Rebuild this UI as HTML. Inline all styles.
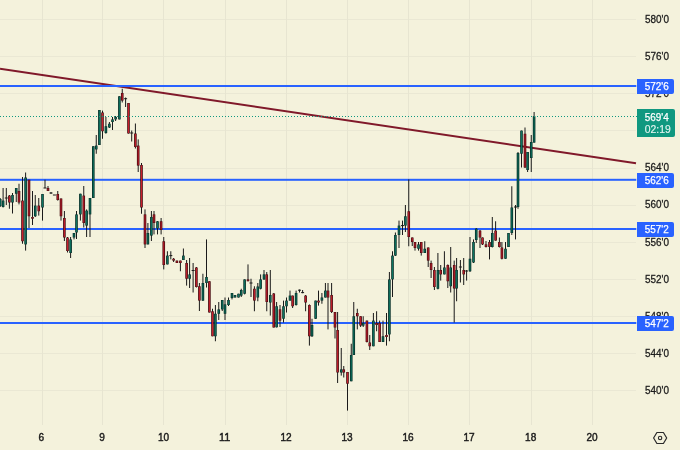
<!DOCTYPE html>
<html lang="en"><head><meta charset="utf-8"><title>Chart</title>
<style>html,body{margin:0;padding:0;background:#f4f2dc;overflow:hidden}svg{display:block}text{font-family:"Liberation Sans",sans-serif;}</style>
</head><body>
<svg width="680" height="450" viewBox="0 0 680 450">
<rect x="0" y="0" width="680" height="450" fill="#f4f2dc"/>
<g stroke="#e7e5d1" stroke-width="1" shape-rendering="crispEdges">
<line x1="0" y1="19.5" x2="636" y2="19.5" stroke="#eae8d4"/>
<line x1="0" y1="56.5" x2="636" y2="56.5" stroke="#eae8d4"/>
<line x1="0" y1="93.5" x2="636" y2="93.5" stroke="#eae8d4"/>
<line x1="0" y1="130.5" x2="636" y2="130.5" stroke="#eae8d4"/>
<line x1="0" y1="168.5" x2="636" y2="168.5" stroke="#eae8d4"/>
<line x1="0" y1="205.5" x2="636" y2="205.5" stroke="#eae8d4"/>
<line x1="0" y1="242.5" x2="636" y2="242.5" stroke="#eae8d4"/>
<line x1="0" y1="279.5" x2="636" y2="279.5" stroke="#eae8d4"/>
<line x1="0" y1="316.5" x2="636" y2="316.5" stroke="#eae8d4"/>
<line x1="0" y1="353.5" x2="636" y2="353.5" stroke="#eae8d4"/>
<line x1="0" y1="390.5" x2="636" y2="390.5" stroke="#eae8d4"/>
<line x1="42.5" y1="0" x2="42.5" y2="425"/>
<line x1="102.5" y1="0" x2="102.5" y2="425"/>
<line x1="163.5" y1="0" x2="163.5" y2="425"/>
<line x1="225.5" y1="0" x2="225.5" y2="425"/>
<line x1="286.5" y1="0" x2="286.5" y2="425"/>
<line x1="347.5" y1="0" x2="347.5" y2="425"/>
<line x1="408.5" y1="0" x2="408.5" y2="425"/>
<line x1="469.5" y1="0" x2="469.5" y2="425"/>
<line x1="531.5" y1="0" x2="531.5" y2="425"/>
<line x1="592.5" y1="0" x2="592.5" y2="425"/>
</g>
<line x1="0" y1="68.8" x2="636" y2="163.2" stroke="#80192a" stroke-width="2"/>
<rect x="0" y="85" width="636.3" height="2" fill="#2962ff"/>
<rect x="0" y="178.8" width="636.3" height="2" fill="#2962ff"/>
<rect x="0" y="228" width="636.3" height="2" fill="#2962ff"/>
<rect x="0" y="322" width="636.3" height="2" fill="#2962ff"/>
<g>
<rect x="-0.3" y="198" width="1" height="9" fill="#1a1a1a"/>
<rect x="-1.1" y="199" width="2.6" height="7" fill="#062f28"/>
<rect x="-0.3" y="199.5" width="1.0" height="6" fill="#0c7460"/>
<rect x="2.6" y="188" width="1" height="19.5" fill="#1a1a1a"/>
<rect x="1.8" y="200.6" width="2.6" height="6.4" fill="#062f28"/>
<rect x="2.6" y="201.1" width="1.0" height="5.4" fill="#0c7460"/>
<rect x="5.8" y="188" width="1" height="17" fill="#1a1a1a"/>
<rect x="4.8" y="197.5" width="3" height="1" fill="#1a1a1a"/>
<rect x="8.9" y="195" width="1" height="13.75" fill="#1a1a1a"/>
<rect x="8.1" y="195.6" width="2.6" height="6.9" fill="#480a10"/>
<rect x="8.9" y="196.1" width="1.0" height="5.9" fill="#c81e2c"/>
<rect x="12" y="193" width="1" height="20.5" fill="#1a1a1a"/>
<rect x="11.2" y="195" width="2.6" height="7.5" fill="#062f28"/>
<rect x="12" y="195.5" width="1.0" height="6.5" fill="#0c7460"/>
<rect x="15.75" y="188" width="1" height="14" fill="#1a1a1a"/>
<rect x="14.95" y="188" width="2.6" height="5.75" fill="#062f28"/>
<rect x="15.75" y="188.5" width="1.0" height="4.75" fill="#0c7460"/>
<rect x="18.5" y="183.75" width="1" height="20.65" fill="#1a1a1a"/>
<rect x="17.7" y="191" width="2.6" height="11.5" fill="#480a10"/>
<rect x="18.5" y="191.5" width="1.0" height="10.5" fill="#c81e2c"/>
<rect x="22" y="177" width="1" height="66.75" fill="#1a1a1a"/>
<rect x="21.2" y="200.6" width="2.6" height="40.65" fill="#480a10"/>
<rect x="22" y="201.1" width="1.0" height="39.65" fill="#c81e2c"/>
<rect x="25.1" y="172.5" width="1" height="78.1" fill="#1a1a1a"/>
<rect x="24.3" y="177.5" width="2.6" height="66.9" fill="#062f28"/>
<rect x="25.1" y="178" width="1.0" height="65.9" fill="#0c7460"/>
<rect x="28.5" y="179.75" width="1" height="48.25" fill="#1a1a1a"/>
<rect x="27.7" y="179.75" width="2.6" height="36.5" fill="#480a10"/>
<rect x="28.5" y="180.25" width="1.0" height="35.5" fill="#c81e2c"/>
<rect x="32" y="191" width="1" height="34" fill="#1a1a1a"/>
<rect x="31.2" y="217" width="2.6" height="1.75" fill="#480a10"/>
<rect x="32" y="217.5" width="1.0" height="0.75" fill="#c81e2c"/>
<rect x="34.75" y="195" width="1" height="22" fill="#1a1a1a"/>
<rect x="33.95" y="205.6" width="2.6" height="10.65" fill="#062f28"/>
<rect x="34.75" y="206.1" width="1.0" height="9.65" fill="#0c7460"/>
<rect x="38.25" y="198" width="1" height="17.6" fill="#1a1a1a"/>
<rect x="37.45" y="205.6" width="2.6" height="5.65" fill="#480a10"/>
<rect x="38.25" y="206.1" width="1.0" height="4.65" fill="#c81e2c"/>
<rect x="42" y="194" width="1" height="26.6" fill="#1a1a1a"/>
<rect x="41.2" y="194" width="2.6" height="13.5" fill="#062f28"/>
<rect x="42" y="194.5" width="1.0" height="12.5" fill="#0c7460"/>
<rect x="44.5" y="179.75" width="1" height="8.25" fill="#1a1a1a"/>
<rect x="43.5" y="187.5" width="3" height="1" fill="#1a1a1a"/>
<rect x="47.5" y="186" width="1" height="5" fill="#1a1a1a"/>
<rect x="46.7" y="188" width="2.6" height="3" fill="#480a10"/>
<rect x="47.5" y="188.5" width="1.0" height="2" fill="#c81e2c"/>
<rect x="50.5" y="192" width="1" height="2" fill="#1a1a1a"/>
<rect x="49.5" y="192.5" width="3" height="1" fill="#1a1a1a"/>
<rect x="52.9" y="194.5" width="3" height="1" fill="#1a1a1a"/>
<rect x="57.25" y="191" width="1" height="9.6" fill="#1a1a1a"/>
<rect x="56.45" y="194" width="2.6" height="6" fill="#480a10"/>
<rect x="57.25" y="194.5" width="1.0" height="5" fill="#c81e2c"/>
<rect x="60.5" y="198.5" width="1" height="22.1" fill="#1a1a1a"/>
<rect x="59.7" y="198.5" width="2.6" height="17.75" fill="#480a10"/>
<rect x="60.5" y="199" width="1.0" height="16.75" fill="#c81e2c"/>
<rect x="63.9" y="211" width="1" height="30" fill="#1a1a1a"/>
<rect x="63.1" y="218" width="2.6" height="19.5" fill="#480a10"/>
<rect x="63.9" y="218.5" width="1.0" height="18.5" fill="#c81e2c"/>
<rect x="67" y="237" width="1" height="15.5" fill="#1a1a1a"/>
<rect x="66.2" y="237.5" width="2.6" height="13.5" fill="#480a10"/>
<rect x="67" y="238" width="1.0" height="12.5" fill="#c81e2c"/>
<rect x="70.1" y="237" width="1" height="21" fill="#1a1a1a"/>
<rect x="69.3" y="239.4" width="2.6" height="13.6" fill="#062f28"/>
<rect x="70.1" y="239.9" width="1.0" height="12.6" fill="#0c7460"/>
<rect x="73.5" y="233" width="1" height="6.4" fill="#1a1a1a"/>
<rect x="72.7" y="233" width="2.6" height="4.5" fill="#062f28"/>
<rect x="73.5" y="233.5" width="1.0" height="3.5" fill="#0c7460"/>
<rect x="76" y="211" width="1" height="28" fill="#1a1a1a"/>
<rect x="75.2" y="214.4" width="2.6" height="18.1" fill="#062f28"/>
<rect x="76" y="214.9" width="1.0" height="17.1" fill="#0c7460"/>
<rect x="79.9" y="193.75" width="1" height="26.85" fill="#1a1a1a"/>
<rect x="79.1" y="193.75" width="2.6" height="20.65" fill="#062f28"/>
<rect x="79.9" y="194.25" width="1.0" height="19.65" fill="#0c7460"/>
<rect x="83.25" y="186" width="1" height="41.5" fill="#1a1a1a"/>
<rect x="82.45" y="195.6" width="2.6" height="27.4" fill="#480a10"/>
<rect x="83.25" y="196.1" width="1.0" height="26.4" fill="#c81e2c"/>
<rect x="86.1" y="209.4" width="1" height="27.6" fill="#1a1a1a"/>
<rect x="85.3" y="210.6" width="2.6" height="15" fill="#062f28"/>
<rect x="86.1" y="211.1" width="1.0" height="14" fill="#0c7460"/>
<rect x="89.5" y="198" width="1" height="39" fill="#1a1a1a"/>
<rect x="88.7" y="198" width="2.6" height="16.4" fill="#062f28"/>
<rect x="89.5" y="198.5" width="1.0" height="15.4" fill="#0c7460"/>
<rect x="92.8" y="146.25" width="1" height="51.75" fill="#1a1a1a"/>
<rect x="92" y="146.25" width="2.6" height="51.75" fill="#062f28"/>
<rect x="92.8" y="146.75" width="1.0" height="50.75" fill="#0c7460"/>
<rect x="95.75" y="135" width="1" height="18.75" fill="#1a1a1a"/>
<rect x="94.95" y="145.6" width="2.6" height="3.8" fill="#062f28"/>
<rect x="95.75" y="146.1" width="1.0" height="2.8" fill="#0c7460"/>
<rect x="98.9" y="110" width="1" height="35" fill="#1a1a1a"/>
<rect x="98.1" y="110" width="2.6" height="35" fill="#062f28"/>
<rect x="98.9" y="110.5" width="1.0" height="34" fill="#0c7460"/>
<rect x="102" y="110.6" width="1" height="28.15" fill="#1a1a1a"/>
<rect x="101.2" y="112.5" width="2.6" height="18.75" fill="#480a10"/>
<rect x="102" y="113" width="1.0" height="17.75" fill="#c81e2c"/>
<rect x="105.4" y="117" width="1" height="16.75" fill="#1a1a1a"/>
<rect x="104.6" y="126.25" width="2.6" height="6.75" fill="#062f28"/>
<rect x="105.4" y="126.75" width="1.0" height="5.75" fill="#0c7460"/>
<rect x="108.9" y="122" width="1" height="6" fill="#1a1a1a"/>
<rect x="108.1" y="123.75" width="2.6" height="3.75" fill="#062f28"/>
<rect x="108.9" y="124.25" width="1.0" height="2.75" fill="#0c7460"/>
<rect x="112" y="117" width="1" height="13" fill="#1a1a1a"/>
<rect x="111.2" y="119.4" width="2.6" height="2.6" fill="#062f28"/>
<rect x="112" y="119.9" width="1.0" height="1.6" fill="#0c7460"/>
<rect x="115.1" y="116" width="1" height="5" fill="#1a1a1a"/>
<rect x="114.3" y="117" width="2.6" height="2.4" fill="#062f28"/>
<rect x="115.1" y="117.5" width="1.0" height="1.4" fill="#0c7460"/>
<rect x="118.9" y="96.25" width="1" height="23.15" fill="#1a1a1a"/>
<rect x="118.1" y="96.25" width="2.6" height="23.15" fill="#062f28"/>
<rect x="118.9" y="96.75" width="1.0" height="22.15" fill="#0c7460"/>
<rect x="121.75" y="88.75" width="1" height="13.75" fill="#1a1a1a"/>
<rect x="120.95" y="93" width="2.6" height="7.6" fill="#480a10"/>
<rect x="121.75" y="93.5" width="1.0" height="6.6" fill="#c81e2c"/>
<rect x="125.1" y="97.5" width="1" height="9.5" fill="#1a1a1a"/>
<rect x="124.1" y="98.2" width="3" height="1" fill="#1a1a1a"/>
<rect x="128" y="103" width="1" height="30.5" fill="#1a1a1a"/>
<rect x="127.2" y="103" width="2.6" height="30.5" fill="#480a10"/>
<rect x="128" y="103.5" width="1.0" height="29.5" fill="#c81e2c"/>
<rect x="131.2" y="130.5" width="1" height="11" fill="#1a1a1a"/>
<rect x="130.2" y="132.5" width="3" height="1" fill="#1a1a1a"/>
<rect x="134.9" y="123.5" width="1" height="25" fill="#1a1a1a"/>
<rect x="134.1" y="133.5" width="2.6" height="13.5" fill="#480a10"/>
<rect x="134.9" y="134" width="1.0" height="12.5" fill="#c81e2c"/>
<rect x="137.7" y="139.4" width="1" height="32.6" fill="#1a1a1a"/>
<rect x="136.9" y="145.6" width="2.6" height="20" fill="#480a10"/>
<rect x="137.7" y="146.1" width="1.0" height="19" fill="#c81e2c"/>
<rect x="141" y="163" width="1" height="50.75" fill="#1a1a1a"/>
<rect x="140.2" y="165" width="2.6" height="42.5" fill="#480a10"/>
<rect x="141" y="165.5" width="1.0" height="41.5" fill="#c81e2c"/>
<rect x="144.5" y="209.4" width="1" height="38.6" fill="#1a1a1a"/>
<rect x="143.7" y="214.4" width="2.6" height="30" fill="#480a10"/>
<rect x="144.5" y="214.9" width="1.0" height="29" fill="#c81e2c"/>
<rect x="147.4" y="223" width="1" height="21.4" fill="#1a1a1a"/>
<rect x="146.6" y="233" width="2.6" height="11.4" fill="#062f28"/>
<rect x="147.4" y="233.5" width="1.0" height="10.4" fill="#0c7460"/>
<rect x="150.9" y="211" width="1" height="30" fill="#1a1a1a"/>
<rect x="150.1" y="217" width="2.6" height="18.6" fill="#062f28"/>
<rect x="150.9" y="217.5" width="1.0" height="17.6" fill="#0c7460"/>
<rect x="153.5" y="211" width="1" height="23.4" fill="#1a1a1a"/>
<rect x="152.7" y="214.4" width="2.6" height="8.6" fill="#480a10"/>
<rect x="153.5" y="214.9" width="1.0" height="7.6" fill="#c81e2c"/>
<rect x="157" y="221" width="1" height="13.4" fill="#1a1a1a"/>
<rect x="156.2" y="221.25" width="2.6" height="7.25" fill="#062f28"/>
<rect x="157" y="221.75" width="1.0" height="6.25" fill="#0c7460"/>
<rect x="160.6" y="218" width="1" height="16.4" fill="#1a1a1a"/>
<rect x="159.8" y="221.25" width="2.6" height="8.75" fill="#480a10"/>
<rect x="160.6" y="221.75" width="1.0" height="7.75" fill="#c81e2c"/>
<rect x="163.25" y="237" width="1" height="32.4" fill="#1a1a1a"/>
<rect x="162.45" y="241.25" width="2.6" height="23.75" fill="#480a10"/>
<rect x="163.25" y="241.75" width="1.0" height="22.75" fill="#c81e2c"/>
<rect x="166.9" y="251.25" width="1" height="13.15" fill="#1a1a1a"/>
<rect x="166.1" y="255.6" width="2.6" height="8.8" fill="#062f28"/>
<rect x="166.9" y="256.1" width="1.0" height="7.8" fill="#0c7460"/>
<rect x="170.3" y="251.25" width="1" height="8.15" fill="#1a1a1a"/>
<rect x="169.3" y="255.1" width="3" height="1" fill="#1a1a1a"/>
<rect x="173.1" y="258" width="1" height="4" fill="#1a1a1a"/>
<rect x="172.3" y="258.75" width="2.6" height="1.85" fill="#480a10"/>
<rect x="173.1" y="259.25" width="1.0" height="0.85" fill="#c81e2c"/>
<rect x="176.4" y="260.6" width="1" height="2.4" fill="#1a1a1a"/>
<rect x="175.6" y="260.6" width="2.6" height="2.4" fill="#480a10"/>
<rect x="176.4" y="261.1" width="1.0" height="1.4" fill="#c81e2c"/>
<rect x="179.9" y="260.6" width="1" height="10.65" fill="#1a1a1a"/>
<rect x="179.1" y="260.6" width="2.6" height="2.4" fill="#480a10"/>
<rect x="179.9" y="261.1" width="1.0" height="1.4" fill="#c81e2c"/>
<rect x="182.9" y="248.5" width="1" height="11.5" fill="#1a1a1a"/>
<rect x="182.1" y="255.6" width="2.6" height="4.4" fill="#062f28"/>
<rect x="182.9" y="256.1" width="1.0" height="3.4" fill="#0c7460"/>
<rect x="186.1" y="260" width="1" height="25.6" fill="#1a1a1a"/>
<rect x="185.3" y="263" width="2.6" height="15.75" fill="#480a10"/>
<rect x="186.1" y="263.5" width="1.0" height="14.75" fill="#c81e2c"/>
<rect x="189.1" y="258" width="1" height="30" fill="#1a1a1a"/>
<rect x="188.3" y="274.4" width="2.6" height="4.35" fill="#062f28"/>
<rect x="189.1" y="274.9" width="1.0" height="3.35" fill="#0c7460"/>
<rect x="192.6" y="263" width="1" height="29.5" fill="#1a1a1a"/>
<rect x="191.6" y="270" width="3" height="1" fill="#1a1a1a"/>
<rect x="195.9" y="267" width="1" height="20.5" fill="#1a1a1a"/>
<rect x="195.1" y="267.5" width="2.6" height="19.5" fill="#480a10"/>
<rect x="195.9" y="268" width="1.0" height="18.5" fill="#c81e2c"/>
<rect x="198.9" y="283" width="1" height="28" fill="#1a1a1a"/>
<rect x="198.1" y="286.25" width="2.6" height="14.35" fill="#480a10"/>
<rect x="198.9" y="286.75" width="1.0" height="13.35" fill="#c81e2c"/>
<rect x="202.4" y="273.75" width="1" height="27.25" fill="#1a1a1a"/>
<rect x="201.6" y="283" width="2.6" height="17.6" fill="#062f28"/>
<rect x="202.4" y="283.5" width="1.0" height="16.6" fill="#0c7460"/>
<rect x="206" y="239.4" width="1" height="48.1" fill="#1a1a1a"/>
<rect x="205.2" y="277" width="2.6" height="6" fill="#062f28"/>
<rect x="206" y="277.5" width="1.0" height="5" fill="#0c7460"/>
<rect x="208.9" y="281.25" width="1" height="31.25" fill="#1a1a1a"/>
<rect x="208.1" y="281.25" width="2.6" height="31.25" fill="#480a10"/>
<rect x="208.9" y="281.75" width="1.0" height="30.25" fill="#c81e2c"/>
<rect x="212" y="308.75" width="1" height="27.5" fill="#1a1a1a"/>
<rect x="211.2" y="311.25" width="2.6" height="25" fill="#480a10"/>
<rect x="212" y="311.75" width="1.0" height="24" fill="#c81e2c"/>
<rect x="214.9" y="305" width="1" height="36.25" fill="#1a1a1a"/>
<rect x="214.1" y="313.75" width="2.6" height="22.5" fill="#062f28"/>
<rect x="214.9" y="314.25" width="1.0" height="21.5" fill="#0c7460"/>
<rect x="218.25" y="302" width="1" height="18" fill="#1a1a1a"/>
<rect x="217.45" y="309.4" width="2.6" height="4.35" fill="#062f28"/>
<rect x="218.25" y="309.9" width="1.0" height="3.35" fill="#0c7460"/>
<rect x="221.75" y="300" width="1" height="11" fill="#1a1a1a"/>
<rect x="220.95" y="300" width="2.6" height="9.4" fill="#062f28"/>
<rect x="221.75" y="300.5" width="1.0" height="8.4" fill="#0c7460"/>
<rect x="224.5" y="297.5" width="1" height="22.5" fill="#1a1a1a"/>
<rect x="223.7" y="304.4" width="2.6" height="9.35" fill="#062f28"/>
<rect x="224.5" y="304.9" width="1.0" height="8.35" fill="#0c7460"/>
<rect x="228" y="297.5" width="1" height="8.5" fill="#1a1a1a"/>
<rect x="227.2" y="300" width="2.6" height="5" fill="#062f28"/>
<rect x="228" y="300.5" width="1.0" height="4" fill="#0c7460"/>
<rect x="231.5" y="293" width="1" height="6.4" fill="#1a1a1a"/>
<rect x="230.7" y="293" width="2.6" height="5" fill="#062f28"/>
<rect x="231.5" y="293.5" width="1.0" height="4" fill="#0c7460"/>
<rect x="234.5" y="295" width="1" height="2.5" fill="#1a1a1a"/>
<rect x="233.7" y="295" width="2.6" height="2.5" fill="#062f28"/>
<rect x="234.5" y="295.5" width="1.0" height="1.5" fill="#0c7460"/>
<rect x="238" y="293.75" width="1" height="3.75" fill="#1a1a1a"/>
<rect x="237.2" y="293.75" width="2.6" height="3.75" fill="#062f28"/>
<rect x="238" y="294.25" width="1.0" height="2.75" fill="#0c7460"/>
<rect x="240.75" y="288.75" width="1" height="8.25" fill="#1a1a1a"/>
<rect x="239.95" y="290" width="2.6" height="5.6" fill="#062f28"/>
<rect x="240.75" y="290.5" width="1.0" height="4.6" fill="#0c7460"/>
<rect x="244.1" y="279.4" width="1" height="15" fill="#1a1a1a"/>
<rect x="243.3" y="279.4" width="2.6" height="14.35" fill="#062f28"/>
<rect x="244.1" y="279.9" width="1.0" height="13.35" fill="#0c7460"/>
<rect x="247.5" y="264.4" width="1" height="16.85" fill="#1a1a1a"/>
<rect x="246.7" y="279.4" width="2.6" height="1.85" fill="#480a10"/>
<rect x="247.5" y="279.9" width="1.0" height="0.85" fill="#c81e2c"/>
<rect x="250.5" y="278.75" width="1" height="18.25" fill="#1a1a1a"/>
<rect x="249.5" y="282.5" width="3" height="1" fill="#1a1a1a"/>
<rect x="253.9" y="286.25" width="1" height="25" fill="#1a1a1a"/>
<rect x="253.1" y="288.75" width="2.6" height="11.85" fill="#480a10"/>
<rect x="253.9" y="289.25" width="1.0" height="10.85" fill="#c81e2c"/>
<rect x="257.3" y="283" width="1" height="18.25" fill="#1a1a1a"/>
<rect x="256.5" y="286.5" width="2.6" height="11" fill="#062f28"/>
<rect x="257.3" y="287" width="1.0" height="10" fill="#0c7460"/>
<rect x="260.1" y="274.4" width="1" height="15" fill="#1a1a1a"/>
<rect x="259.3" y="279.4" width="2.6" height="9.35" fill="#062f28"/>
<rect x="260.1" y="279.9" width="1.0" height="8.35" fill="#0c7460"/>
<rect x="263.5" y="270" width="1" height="10" fill="#1a1a1a"/>
<rect x="262.7" y="274.4" width="2.6" height="5" fill="#062f28"/>
<rect x="263.5" y="274.9" width="1.0" height="4" fill="#0c7460"/>
<rect x="266.25" y="272" width="1" height="39.25" fill="#1a1a1a"/>
<rect x="265.45" y="274.4" width="2.6" height="27.6" fill="#480a10"/>
<rect x="266.25" y="274.9" width="1.0" height="26.6" fill="#c81e2c"/>
<rect x="269.8" y="270" width="1" height="45.6" fill="#1a1a1a"/>
<rect x="269" y="295" width="2.6" height="7.5" fill="#062f28"/>
<rect x="269.8" y="295.5" width="1.0" height="6.5" fill="#0c7460"/>
<rect x="273.25" y="293" width="1" height="34.5" fill="#1a1a1a"/>
<rect x="272.45" y="293.5" width="2.6" height="34" fill="#480a10"/>
<rect x="273.25" y="294" width="1.0" height="33" fill="#c81e2c"/>
<rect x="276.1" y="302" width="1" height="25.5" fill="#1a1a1a"/>
<rect x="275.3" y="306.25" width="2.6" height="21" fill="#062f28"/>
<rect x="276.1" y="306.75" width="1.0" height="20" fill="#0c7460"/>
<rect x="279.5" y="305" width="1" height="22" fill="#1a1a1a"/>
<rect x="278.7" y="309.4" width="2.6" height="11.2" fill="#480a10"/>
<rect x="279.5" y="309.9" width="1.0" height="10.2" fill="#c81e2c"/>
<rect x="283" y="300.6" width="1" height="21.9" fill="#1a1a1a"/>
<rect x="282.2" y="306.25" width="2.6" height="12.5" fill="#062f28"/>
<rect x="283" y="306.75" width="1.0" height="11.5" fill="#0c7460"/>
<rect x="286" y="297.5" width="1" height="15" fill="#1a1a1a"/>
<rect x="285.2" y="300.6" width="2.6" height="5.65" fill="#062f28"/>
<rect x="286" y="301.1" width="1.0" height="4.65" fill="#0c7460"/>
<rect x="289.5" y="290.6" width="1" height="10" fill="#1a1a1a"/>
<rect x="288.7" y="295.6" width="2.6" height="5" fill="#062f28"/>
<rect x="289.5" y="296.1" width="1.0" height="4" fill="#0c7460"/>
<rect x="292.1" y="295.6" width="1" height="12.4" fill="#1a1a1a"/>
<rect x="291.3" y="295.6" width="2.6" height="10.65" fill="#480a10"/>
<rect x="292.1" y="296.1" width="1.0" height="9.65" fill="#c81e2c"/>
<rect x="295.6" y="290.6" width="1" height="15" fill="#1a1a1a"/>
<rect x="294.8" y="293" width="2.6" height="12" fill="#062f28"/>
<rect x="295.6" y="293.5" width="1.0" height="11" fill="#0c7460"/>
<rect x="299" y="289.5" width="1" height="3" fill="#1a1a1a"/>
<rect x="298" y="289.7" width="3" height="1" fill="#1a1a1a"/>
<rect x="302.1" y="290" width="1" height="3.2" fill="#1a1a1a"/>
<rect x="301.1" y="292.1" width="3" height="1" fill="#1a1a1a"/>
<rect x="305.1" y="295" width="1" height="16.25" fill="#1a1a1a"/>
<rect x="304.3" y="295.6" width="2.6" height="6.9" fill="#480a10"/>
<rect x="305.1" y="296.1" width="1.0" height="5.9" fill="#c81e2c"/>
<rect x="308.9" y="304.4" width="1" height="41.2" fill="#1a1a1a"/>
<rect x="308.1" y="305" width="2.6" height="31.25" fill="#480a10"/>
<rect x="308.9" y="305.5" width="1.0" height="30.25" fill="#c81e2c"/>
<rect x="311.5" y="318.75" width="1" height="18.25" fill="#1a1a1a"/>
<rect x="310.7" y="325" width="2.6" height="11.25" fill="#062f28"/>
<rect x="311.5" y="325.5" width="1.0" height="10.25" fill="#0c7460"/>
<rect x="315.1" y="300.6" width="1" height="18.4" fill="#1a1a1a"/>
<rect x="314.3" y="300.6" width="2.6" height="18.15" fill="#062f28"/>
<rect x="315.1" y="301.1" width="1.0" height="17.15" fill="#0c7460"/>
<rect x="318" y="290.6" width="1" height="15" fill="#1a1a1a"/>
<rect x="317.2" y="300.6" width="2.6" height="1.9" fill="#480a10"/>
<rect x="318" y="301.1" width="1.0" height="0.9" fill="#c81e2c"/>
<rect x="321.4" y="293" width="1" height="10.75" fill="#1a1a1a"/>
<rect x="320.6" y="297.5" width="2.6" height="3.1" fill="#062f28"/>
<rect x="321.4" y="298" width="1.0" height="2.1" fill="#0c7460"/>
<rect x="324.9" y="283" width="1" height="14.5" fill="#1a1a1a"/>
<rect x="324.1" y="290.6" width="2.6" height="6.9" fill="#062f28"/>
<rect x="324.9" y="291.1" width="1.0" height="5.9" fill="#0c7460"/>
<rect x="327.5" y="283" width="1" height="46.4" fill="#1a1a1a"/>
<rect x="326.7" y="290.6" width="2.6" height="6.9" fill="#480a10"/>
<rect x="327.5" y="291.1" width="1.0" height="5.9" fill="#c81e2c"/>
<rect x="331.1" y="283" width="1" height="30" fill="#1a1a1a"/>
<rect x="330.3" y="295" width="2.6" height="17" fill="#480a10"/>
<rect x="331.1" y="295.5" width="1.0" height="16" fill="#c81e2c"/>
<rect x="334.5" y="312" width="1" height="26.5" fill="#1a1a1a"/>
<rect x="333.7" y="312" width="2.6" height="15.5" fill="#480a10"/>
<rect x="334.5" y="312.5" width="1.0" height="14.5" fill="#c81e2c"/>
<rect x="337.1" y="312" width="1" height="71" fill="#1a1a1a"/>
<rect x="336.3" y="330" width="2.6" height="42.5" fill="#480a10"/>
<rect x="337.1" y="330.5" width="1.0" height="41.5" fill="#c81e2c"/>
<rect x="340.75" y="348" width="1" height="27.6" fill="#1a1a1a"/>
<rect x="339.95" y="369.4" width="2.6" height="3.1" fill="#062f28"/>
<rect x="340.75" y="369.9" width="1.0" height="2.1" fill="#0c7460"/>
<rect x="343.25" y="366" width="1" height="11.5" fill="#1a1a1a"/>
<rect x="342.45" y="369.4" width="2.6" height="3.1" fill="#480a10"/>
<rect x="343.25" y="369.9" width="1.0" height="2.1" fill="#c81e2c"/>
<rect x="347" y="372" width="1" height="38.6" fill="#1a1a1a"/>
<rect x="346.2" y="372" width="2.6" height="11.75" fill="#480a10"/>
<rect x="347" y="372.5" width="1.0" height="10.75" fill="#c81e2c"/>
<rect x="350.75" y="343.75" width="1" height="37.5" fill="#1a1a1a"/>
<rect x="349.95" y="355" width="2.6" height="26.25" fill="#062f28"/>
<rect x="350.75" y="355.5" width="1.0" height="25.25" fill="#0c7460"/>
<rect x="353.25" y="302" width="1" height="53" fill="#1a1a1a"/>
<rect x="352.45" y="316.25" width="2.6" height="38.75" fill="#062f28"/>
<rect x="353.25" y="316.75" width="1.0" height="37.75" fill="#0c7460"/>
<rect x="356.8" y="308.75" width="1" height="20.65" fill="#1a1a1a"/>
<rect x="356" y="313" width="2.6" height="3.25" fill="#480a10"/>
<rect x="356.8" y="313.5" width="1.0" height="2.25" fill="#c81e2c"/>
<rect x="360.1" y="316.25" width="1" height="10.75" fill="#1a1a1a"/>
<rect x="359.3" y="316.25" width="2.6" height="9.35" fill="#480a10"/>
<rect x="360.1" y="316.75" width="1.0" height="8.35" fill="#c81e2c"/>
<rect x="362.7" y="316.25" width="1" height="10.75" fill="#1a1a1a"/>
<rect x="361.9" y="323" width="2.6" height="2.6" fill="#062f28"/>
<rect x="362.7" y="323.5" width="1.0" height="1.6" fill="#0c7460"/>
<rect x="366.4" y="320.6" width="1" height="21.9" fill="#1a1a1a"/>
<rect x="365.6" y="320.6" width="2.6" height="21.4" fill="#480a10"/>
<rect x="366.4" y="321.1" width="1.0" height="20.4" fill="#c81e2c"/>
<rect x="369.25" y="335" width="1" height="15" fill="#1a1a1a"/>
<rect x="368.45" y="342.5" width="2.6" height="3.75" fill="#480a10"/>
<rect x="369.25" y="343" width="1.0" height="2.75" fill="#c81e2c"/>
<rect x="372.9" y="313" width="1" height="33.25" fill="#1a1a1a"/>
<rect x="372.1" y="320.6" width="2.6" height="25.65" fill="#062f28"/>
<rect x="372.9" y="321.1" width="1.0" height="24.65" fill="#0c7460"/>
<rect x="376.1" y="311.25" width="1" height="20" fill="#1a1a1a"/>
<rect x="375.3" y="323" width="2.6" height="2" fill="#480a10"/>
<rect x="376.1" y="323.5" width="1.0" height="1" fill="#c81e2c"/>
<rect x="379.1" y="320.6" width="1" height="21.4" fill="#1a1a1a"/>
<rect x="378.3" y="323" width="2.6" height="19" fill="#480a10"/>
<rect x="379.1" y="323.5" width="1.0" height="18" fill="#c81e2c"/>
<rect x="382.5" y="320.6" width="1" height="21.4" fill="#1a1a1a"/>
<rect x="381.7" y="336.25" width="2.6" height="5.75" fill="#062f28"/>
<rect x="382.5" y="336.75" width="1.0" height="4.75" fill="#0c7460"/>
<rect x="386" y="313" width="1" height="32.6" fill="#1a1a1a"/>
<rect x="385.2" y="335" width="2.6" height="2" fill="#480a10"/>
<rect x="386" y="335.5" width="1.0" height="1" fill="#c81e2c"/>
<rect x="388.9" y="272" width="1" height="69.25" fill="#1a1a1a"/>
<rect x="388.1" y="279.4" width="2.6" height="55" fill="#062f28"/>
<rect x="388.9" y="279.9" width="1.0" height="54" fill="#0c7460"/>
<rect x="392" y="251.25" width="1" height="45.75" fill="#1a1a1a"/>
<rect x="391.2" y="255.6" width="2.6" height="23.8" fill="#062f28"/>
<rect x="392" y="256.1" width="1.0" height="22.8" fill="#0c7460"/>
<rect x="394.9" y="232.5" width="1" height="23.5" fill="#1a1a1a"/>
<rect x="394.1" y="235" width="2.6" height="20.6" fill="#062f28"/>
<rect x="394.9" y="235.5" width="1.0" height="19.6" fill="#0c7460"/>
<rect x="398.5" y="220.6" width="1" height="27.4" fill="#1a1a1a"/>
<rect x="397.7" y="225.6" width="2.6" height="9.4" fill="#062f28"/>
<rect x="398.5" y="226.1" width="1.0" height="8.4" fill="#0c7460"/>
<rect x="402" y="220.6" width="1" height="14.4" fill="#1a1a1a"/>
<rect x="401" y="225.1" width="3" height="1" fill="#1a1a1a"/>
<rect x="404.9" y="205" width="1" height="27" fill="#1a1a1a"/>
<rect x="404.1" y="216.25" width="2.6" height="9.35" fill="#062f28"/>
<rect x="404.9" y="216.75" width="1.0" height="8.35" fill="#0c7460"/>
<rect x="408.25" y="179.4" width="1" height="66.85" fill="#1a1a1a"/>
<rect x="407.45" y="211.25" width="2.6" height="25.75" fill="#480a10"/>
<rect x="408.25" y="211.75" width="1.0" height="24.75" fill="#c81e2c"/>
<rect x="411.75" y="237.5" width="1" height="8.5" fill="#1a1a1a"/>
<rect x="410.95" y="237.5" width="2.6" height="4.5" fill="#480a10"/>
<rect x="411.75" y="238" width="1.0" height="3.5" fill="#c81e2c"/>
<rect x="414.5" y="242" width="1" height="8.6" fill="#1a1a1a"/>
<rect x="413.7" y="242" width="2.6" height="6" fill="#480a10"/>
<rect x="414.5" y="242.5" width="1.0" height="5" fill="#c81e2c"/>
<rect x="418" y="242" width="1" height="8.6" fill="#1a1a1a"/>
<rect x="417.2" y="244.4" width="2.6" height="4.35" fill="#062f28"/>
<rect x="418" y="244.9" width="1.0" height="3.35" fill="#0c7460"/>
<rect x="420.75" y="242" width="1" height="13.6" fill="#1a1a1a"/>
<rect x="419.95" y="242" width="2.6" height="11" fill="#480a10"/>
<rect x="420.75" y="242.5" width="1.0" height="10" fill="#c81e2c"/>
<rect x="424.25" y="241.25" width="1" height="11.75" fill="#1a1a1a"/>
<rect x="423.45" y="248.75" width="2.6" height="4.25" fill="#062f28"/>
<rect x="424.25" y="249.25" width="1.0" height="3.25" fill="#0c7460"/>
<rect x="427.7" y="247.5" width="1" height="19.5" fill="#1a1a1a"/>
<rect x="426.9" y="247.5" width="2.6" height="13.1" fill="#480a10"/>
<rect x="427.7" y="248" width="1.0" height="12.1" fill="#c81e2c"/>
<rect x="430.6" y="260.6" width="1" height="17.4" fill="#1a1a1a"/>
<rect x="429.8" y="263" width="2.6" height="7" fill="#480a10"/>
<rect x="430.6" y="263.5" width="1.0" height="6" fill="#c81e2c"/>
<rect x="433.9" y="267" width="1" height="23" fill="#1a1a1a"/>
<rect x="433.1" y="270" width="2.6" height="17" fill="#480a10"/>
<rect x="433.9" y="270.5" width="1.0" height="16" fill="#c81e2c"/>
<rect x="437.4" y="253" width="1" height="36.4" fill="#1a1a1a"/>
<rect x="436.6" y="270" width="2.6" height="18.75" fill="#062f28"/>
<rect x="437.4" y="270.5" width="1.0" height="17.75" fill="#0c7460"/>
<rect x="440.2" y="265" width="1" height="15.6" fill="#1a1a1a"/>
<rect x="439.4" y="270" width="2.6" height="4.4" fill="#480a10"/>
<rect x="440.2" y="270.5" width="1.0" height="3.4" fill="#c81e2c"/>
<rect x="443.9" y="251.25" width="1" height="23.15" fill="#1a1a1a"/>
<rect x="443.1" y="267.5" width="2.6" height="6.9" fill="#062f28"/>
<rect x="443.9" y="268" width="1.0" height="5.9" fill="#0c7460"/>
<rect x="447.3" y="264.4" width="1" height="23.6" fill="#1a1a1a"/>
<rect x="446.5" y="265" width="2.6" height="16.25" fill="#480a10"/>
<rect x="447.3" y="265.5" width="1.0" height="15.25" fill="#c81e2c"/>
<rect x="450.2" y="247" width="1" height="45.5" fill="#1a1a1a"/>
<rect x="449.4" y="267.5" width="2.6" height="18.75" fill="#062f28"/>
<rect x="450.2" y="268" width="1.0" height="17.75" fill="#0c7460"/>
<rect x="453.7" y="260.6" width="1" height="61.9" fill="#1a1a1a"/>
<rect x="452.9" y="265" width="2.6" height="23.5" fill="#480a10"/>
<rect x="453.7" y="265.5" width="1.0" height="22.5" fill="#c81e2c"/>
<rect x="456.1" y="258" width="1" height="43.25" fill="#1a1a1a"/>
<rect x="455.3" y="270" width="2.6" height="18.5" fill="#062f28"/>
<rect x="456.1" y="270.5" width="1.0" height="17.5" fill="#0c7460"/>
<rect x="459.9" y="260" width="1" height="22.5" fill="#1a1a1a"/>
<rect x="458.9" y="266.5" width="3" height="1" fill="#1a1a1a"/>
<rect x="463.2" y="258" width="1" height="27" fill="#1a1a1a"/>
<rect x="462.4" y="270" width="2.6" height="4.4" fill="#480a10"/>
<rect x="463.2" y="270.5" width="1.0" height="3.4" fill="#c81e2c"/>
<rect x="466.1" y="270" width="1" height="10.6" fill="#1a1a1a"/>
<rect x="465.1" y="270.5" width="3" height="1" fill="#1a1a1a"/>
<rect x="469.5" y="237" width="1" height="35" fill="#1a1a1a"/>
<rect x="468.7" y="258.75" width="2.6" height="12.5" fill="#062f28"/>
<rect x="469.5" y="259.25" width="1.0" height="11.5" fill="#0c7460"/>
<rect x="473" y="239.4" width="1" height="23.6" fill="#1a1a1a"/>
<rect x="472.2" y="242" width="2.6" height="20.5" fill="#062f28"/>
<rect x="473" y="242.5" width="1.0" height="19.5" fill="#0c7460"/>
<rect x="475.75" y="228" width="1" height="15" fill="#1a1a1a"/>
<rect x="474.95" y="228.75" width="2.6" height="11.25" fill="#062f28"/>
<rect x="475.75" y="229.25" width="1.0" height="10.25" fill="#0c7460"/>
<rect x="479.5" y="230" width="1" height="18" fill="#1a1a1a"/>
<rect x="478.7" y="230.6" width="2.6" height="6.9" fill="#480a10"/>
<rect x="479.5" y="231.1" width="1.0" height="5.9" fill="#c81e2c"/>
<rect x="482" y="237.5" width="1" height="7.5" fill="#1a1a1a"/>
<rect x="481.2" y="237.5" width="2.6" height="6.9" fill="#480a10"/>
<rect x="482" y="238" width="1.0" height="5.9" fill="#c81e2c"/>
<rect x="485.5" y="241" width="1" height="6.5" fill="#1a1a1a"/>
<rect x="484.7" y="244.4" width="2.6" height="2.6" fill="#480a10"/>
<rect x="485.5" y="244.9" width="1.0" height="1.6" fill="#c81e2c"/>
<rect x="489" y="240" width="1" height="19.4" fill="#1a1a1a"/>
<rect x="488.2" y="242" width="2.6" height="5" fill="#480a10"/>
<rect x="489" y="242.5" width="1.0" height="4" fill="#c81e2c"/>
<rect x="491.8" y="217" width="1" height="30.5" fill="#1a1a1a"/>
<rect x="491" y="233" width="2.6" height="14" fill="#062f28"/>
<rect x="491.8" y="233.5" width="1.0" height="13" fill="#0c7460"/>
<rect x="495.1" y="221.25" width="1" height="19.35" fill="#1a1a1a"/>
<rect x="494.3" y="230.6" width="2.6" height="10" fill="#480a10"/>
<rect x="495.1" y="231.1" width="1.0" height="9" fill="#c81e2c"/>
<rect x="498.9" y="237.5" width="1" height="10" fill="#1a1a1a"/>
<rect x="498.1" y="242" width="2.6" height="5" fill="#480a10"/>
<rect x="498.9" y="242.5" width="1.0" height="4" fill="#c81e2c"/>
<rect x="501.4" y="242" width="1" height="17.4" fill="#1a1a1a"/>
<rect x="500.6" y="247.5" width="2.6" height="11.25" fill="#480a10"/>
<rect x="501.4" y="248" width="1.0" height="10.25" fill="#c81e2c"/>
<rect x="505" y="242" width="1" height="16.75" fill="#1a1a1a"/>
<rect x="504.2" y="248.75" width="2.6" height="10" fill="#062f28"/>
<rect x="505" y="249.25" width="1.0" height="9" fill="#0c7460"/>
<rect x="508" y="233" width="1" height="14" fill="#1a1a1a"/>
<rect x="507.2" y="233" width="2.6" height="14" fill="#062f28"/>
<rect x="508" y="233.5" width="1.0" height="13" fill="#0c7460"/>
<rect x="511.3" y="186.25" width="1" height="48.75" fill="#1a1a1a"/>
<rect x="510.5" y="207.5" width="2.6" height="25.5" fill="#062f28"/>
<rect x="511.3" y="208" width="1.0" height="24.5" fill="#0c7460"/>
<rect x="515" y="205" width="1" height="34.4" fill="#1a1a1a"/>
<rect x="514" y="206.5" width="3" height="1" fill="#1a1a1a"/>
<rect x="517.5" y="152" width="1" height="56.75" fill="#1a1a1a"/>
<rect x="516.7" y="153" width="2.6" height="54" fill="#062f28"/>
<rect x="517.5" y="153.5" width="1.0" height="53" fill="#0c7460"/>
<rect x="521" y="130.6" width="1" height="36.9" fill="#1a1a1a"/>
<rect x="520.2" y="130.6" width="2.6" height="23.15" fill="#062f28"/>
<rect x="521" y="131.1" width="1.0" height="22.15" fill="#0c7460"/>
<rect x="524.5" y="127.5" width="1" height="40.5" fill="#1a1a1a"/>
<rect x="523.7" y="133.75" width="2.6" height="33.75" fill="#480a10"/>
<rect x="524.5" y="134.25" width="1.0" height="32.75" fill="#c81e2c"/>
<rect x="527.1" y="152" width="1" height="20" fill="#1a1a1a"/>
<rect x="526.3" y="152" width="2.6" height="18" fill="#062f28"/>
<rect x="527.1" y="152.5" width="1.0" height="17" fill="#0c7460"/>
<rect x="530.75" y="135" width="1" height="37" fill="#1a1a1a"/>
<rect x="529.95" y="142" width="2.6" height="16" fill="#062f28"/>
<rect x="530.75" y="142.5" width="1.0" height="15" fill="#0c7460"/>
<rect x="533.6" y="112" width="1" height="30.6" fill="#1a1a1a"/>
<rect x="532.8" y="116.25" width="2.6" height="26.35" fill="#062f28"/>
<rect x="533.6" y="116.75" width="1.0" height="25.35" fill="#0c7460"/>
</g>
<line x1="0" y1="116.5" x2="637" y2="116.5" stroke="#109880" stroke-width="1" stroke-dasharray="1 2"/>
<g fill="#1c1c1c" stroke="#1c1c1c" stroke-width="0.3" font-size="11px">
<text x="645" y="22.6" textLength="24" lengthAdjust="spacingAndGlyphs">580'0</text>
<text x="645" y="59.765" textLength="24" lengthAdjust="spacingAndGlyphs">576'0</text>
<text x="645" y="96.93" textLength="24" lengthAdjust="spacingAndGlyphs">572'0</text>
<text x="645" y="134.095" textLength="24" lengthAdjust="spacingAndGlyphs">568'0</text>
<text x="645" y="171.26" textLength="24" lengthAdjust="spacingAndGlyphs">564'0</text>
<text x="645" y="208.425" textLength="24" lengthAdjust="spacingAndGlyphs">560'0</text>
<text x="645" y="245.59" textLength="24" lengthAdjust="spacingAndGlyphs">556'0</text>
<text x="645" y="282.755" textLength="24" lengthAdjust="spacingAndGlyphs">552'0</text>
<text x="645" y="319.92" textLength="24" lengthAdjust="spacingAndGlyphs">548'0</text>
<text x="645" y="357.085" textLength="24" lengthAdjust="spacingAndGlyphs">544'0</text>
<text x="645" y="394.25" textLength="24" lengthAdjust="spacingAndGlyphs">540'0</text>
</g>
<path d="M637 79 H672 a2 2 0 0 1 2 2 V92 a2 2 0 0 1 -2 2 H637 Z" fill="#2962ff"/>
<text x="644.7" y="90.4" font-size="11px" fill="#fff" stroke="#fff" stroke-width="0.25" textLength="24" lengthAdjust="spacingAndGlyphs">572'6</text>
<path d="M637 173 H672 a2 2 0 0 1 2 2 V186 a2 2 0 0 1 -2 2 H637 Z" fill="#2962ff"/>
<text x="644.7" y="184.4" font-size="11px" fill="#fff" stroke="#fff" stroke-width="0.25" textLength="24" lengthAdjust="spacingAndGlyphs">562'6</text>
<path d="M637 222 H672 a2 2 0 0 1 2 2 V235 a2 2 0 0 1 -2 2 H637 Z" fill="#2962ff"/>
<text x="644.7" y="233.4" font-size="11px" fill="#fff" stroke="#fff" stroke-width="0.25" textLength="24" lengthAdjust="spacingAndGlyphs">557'2</text>
<path d="M637 316 H672 a2 2 0 0 1 2 2 V329 a2 2 0 0 1 -2 2 H637 Z" fill="#2962ff"/>
<text x="644.7" y="327.4" font-size="11px" fill="#fff" stroke="#fff" stroke-width="0.25" textLength="24" lengthAdjust="spacingAndGlyphs">547'2</text>
<path d="M637 109 H673 a2 2 0 0 1 2 2 V135 a2 2 0 0 1 -2 2 H637 Z" fill="#109880"/>
<text x="644.7" y="120.7" font-size="11px" fill="#fff" stroke="#fff" stroke-width="0.25" textLength="24" lengthAdjust="spacingAndGlyphs">569'4</text>
<text x="644.7" y="132.7" font-size="11px" fill="#e3f5f0" stroke="#e3f5f0" stroke-width="0.15" textLength="26" lengthAdjust="spacingAndGlyphs">02:19</text>
<g fill="#1c1c1c" stroke="#1c1c1c" stroke-width="0.45" font-size="11px" text-anchor="middle">
<text x="41.3" y="441.3" textLength="5.6" lengthAdjust="spacingAndGlyphs">6</text>
<text x="102" y="441.3" textLength="5.6" lengthAdjust="spacingAndGlyphs">9</text>
<text x="163.5" y="441.3" textLength="11.2" lengthAdjust="spacingAndGlyphs">10</text>
<text x="224.7" y="441.3" textLength="11.2" lengthAdjust="spacingAndGlyphs">11</text>
<text x="286" y="441.3" textLength="11.2" lengthAdjust="spacingAndGlyphs">12</text>
<text x="347" y="441.3" textLength="11.2" lengthAdjust="spacingAndGlyphs">13</text>
<text x="408" y="441.3" textLength="11.2" lengthAdjust="spacingAndGlyphs">16</text>
<text x="469" y="441.3" textLength="11.2" lengthAdjust="spacingAndGlyphs">17</text>
<text x="530.7" y="441.3" textLength="11.2" lengthAdjust="spacingAndGlyphs">18</text>
<text x="592" y="441.3" textLength="11.2" lengthAdjust="spacingAndGlyphs">20</text>
</g>
<g fill="none" stroke="#2a2a2a" stroke-width="1.2" stroke-linejoin="round">
<path d="M653.6 438 L656.9 432.5 L663.4 432.5 L666.7 438 L663.4 443.5 L656.9 443.5 Z"/>
<circle cx="660.1" cy="438" r="1.7" stroke-width="1.1"/>
</g>
</svg>
</body></html>
